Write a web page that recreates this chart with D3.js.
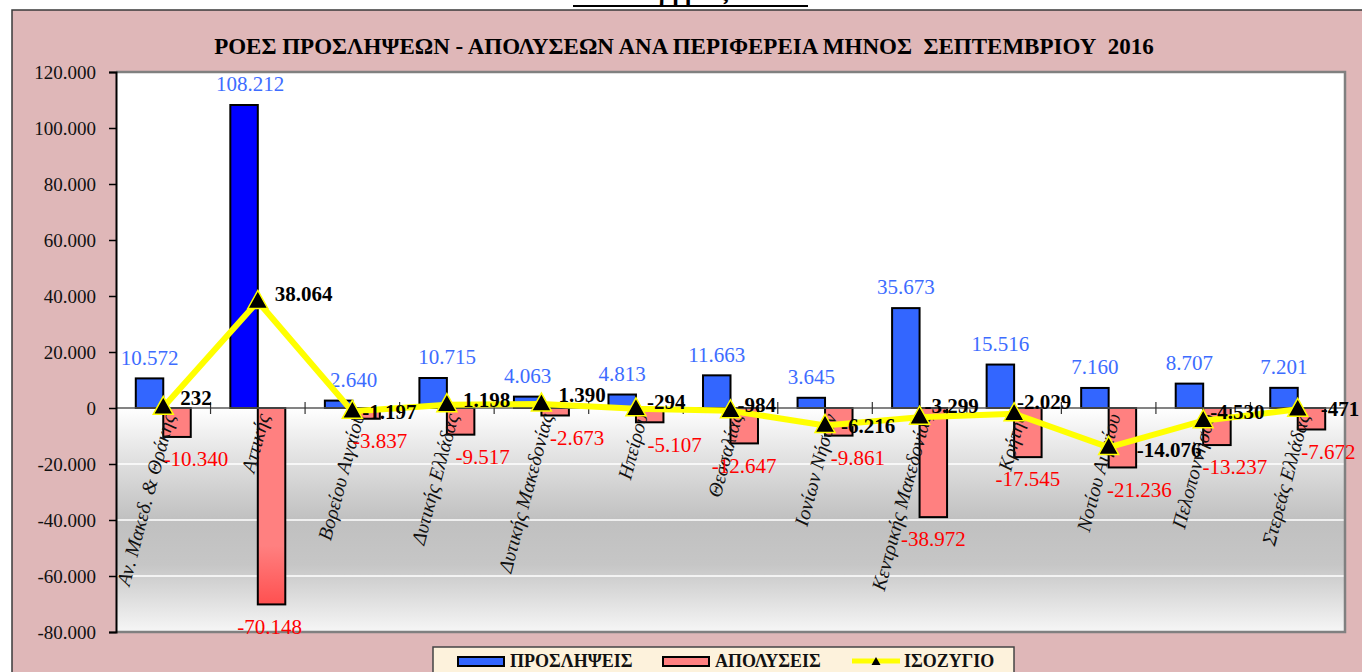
<!DOCTYPE html>
<html>
<head>
<meta charset="utf-8">
<script src="https://cdn.jsdelivr.net/npm/d3@7"></script>
<style>
  html, body { margin: 0; padding: 0; background: #fff; }
  svg { display: block; }
</style>
</head>
<body>
<svg id="chart" width="1362" height="672"></svg>
<script>
// chart values
const regions = [
  "Αν. Μακεδ. & Θράκης", "Αττικής", "Βορείου Αιγαίου", "Δυτικής Ελλάδας",
  "Δυτικής Μακεδονίας", "Ηπείρου", "Θεσσαλίας", "Ιονίων Νήσων",
  "Κεντρικής Μακεδονίας", "Κρήτης", "Νοτίου Αιγαίου", "Πελοποννήσου",
  "Στερεάς Ελλάδας"
];
const hires = [10572, 108212, 2640, 10715, 4063, 4813, 11663, 3645, 35673, 15516, 7160, 8707, 7201];
const layoffs = [-10340, -70148, -3837, -9517, -2673, -5107, -12647, -9861, -38972, -17545, -21236, -13237, -7672];
const balance = [232, 38064, -1197, 1198, 1390, -294, -984, -6216, -3299, -2029, -14076, -4530, -471];
const yTicks = [-80000, -60000, -40000, -20000, 0, 20000, 40000, 60000, 80000, 100000, 120000];
const seriesNames = ["ΠΡΟΣΛΗΨΕΙΣ", "ΑΠΟΛΥΣΕΙΣ", "ΙΣΟΖΥΓΙΟ"];
const title = "ΡΟΕΣ ΠΡΟΣΛΗΨΕΩΝ - ΑΠΟΛΥΣΕΩΝ ΑΝΑ ΠΕΡΙΦΕΡΕΙΑ ΜΗΝΟΣ  ΣΕΠΤΕΜΒΡΙΟΥ  2016";

const SERIF = "'Liberation Serif', 'DejaVu Serif', serif";
const fmt = (v) => d3.format(",")(v).replace(/,/g, ".").replace("−", "-");

// hand-placed label nudges (px), as in the original sheet
const hireDx = [0, 6, 15, 14, 0, 0, 0, 0, 0, 0, 0, 0, 0];
const layoffDx = [19, -2, 14, 22, 22, 25, 0, 19, 0, 0, 17, 18, 17];
const balDx = [17, 17, 10, 16, 17, 11, 7, 16, 5, 3, 28, 7, 23];
const balDy = [-10, -8, 0, -5, -9, -7, -6, 0, -12, -12, 2, -9, -1];

const svg = d3.select("#chart");
const plot = { left: 116, right: 1345, top: 72, bottom: 632 };

// outer frame
svg.append("rect")
  .attr("x", 12).attr("y", 10).attr("width", 1380).attr("height", 700)
  .attr("fill", "#dfb7b8").attr("stroke", "#3a3a3a").attr("stroke-width", 1.5);

// heading of the page above, cut off by the crop
svg.append("text")
  .attr("x", 690).attr("y", 0)
  .attr("text-anchor", "middle")
  .attr("font-family", SERIF).attr("font-weight", "bold").attr("font-size", 24)
  .text("Σεπτέμβριος 2016");
svg.append("line")
  .attr("x1", 573).attr("x2", 808).attr("y1", 6).attr("y2", 6)
  .attr("stroke", "#000").attr("stroke-width", 2);

svg.append("text")
  .attr("x", 684).attr("y", 54)
  .attr("text-anchor", "middle")
  .attr("font-family", SERIF).attr("font-weight", "bold").attr("font-size", 23)
  .style("white-space", "pre")
  .text(title);

const y = d3.scaleLinear().domain([-80000, 120000]).range([plot.bottom, plot.top]);
const x0 = d3.scaleBand().domain(regions).range([plot.left, plot.right]).padding(0);
const x1 = d3.scaleBand().domain(["h", "l"]).range([0, x0.bandwidth()])
  .paddingInner(0).paddingOuter(0.72);

// plot background gradient
const defs = svg.append("defs");
const bg = defs.append("linearGradient").attr("id", "plotbg")
  .attr("x1", 0).attr("x2", 0).attr("y1", 0).attr("y2", 1);
[[0, "#ffffff"], [0.6, "#ffffff"], [0.7, "#dedede"], [0.8, "#c0c0c0"], [0.88, "#c6c6c6"], [1, "#f6f6f6"]]
  .forEach(([o, c]) => bg.append("stop").attr("offset", o).attr("stop-color", c));

const redGrad = defs.append("linearGradient").attr("id", "redbar")
  .attr("x1", 0).attr("x2", 0).attr("y1", 0).attr("y2", 1);
[[0, "#ff8080"], [0.7, "#ff8080"], [1, "#ff5050"]]
  .forEach(([o, c]) => redGrad.append("stop").attr("offset", o).attr("stop-color", c));

svg.append("rect")
  .attr("x", plot.left).attr("y", plot.top)
  .attr("width", plot.right - plot.left).attr("height", plot.bottom - plot.top)
  .attr("fill", "url(#plotbg)");

// gridlines
svg.append("g").selectAll("line")
  .data(yTicks.filter((t) => t !== 0 && t !== -80000 && t !== 120000))
  .join("line")
  .attr("x1", plot.left).attr("x2", plot.right)
  .attr("y1", (d) => y(d)).attr("y2", (d) => y(d))
  .attr("stroke", "#ffffff").attr("stroke-width", 1.5);

// plot border (top, right, bottom)
svg.append("path")
  .attr("d", `M${plot.left},${plot.top}H${plot.right}V${plot.bottom}H${plot.left}`)
  .attr("fill", "none").attr("stroke", "#808080").attr("stroke-width", 2.5);

// bars
const groups = svg.append("g").selectAll("g")
  .data(regions)
  .join("g")
  .attr("transform", (d) => `translate(${x0(d)},0)`);

groups.append("rect")
  .attr("x", x1("h")).attr("width", x1.bandwidth())
  .attr("y", (d, i) => y(hires[i]))
  .attr("height", (d, i) => y(0) - y(hires[i]))
  .attr("fill", (d) => (d === "Αττικής" ? "#0000ff" : "#3366ff"))
  .attr("stroke", "#000").attr("stroke-width", 2);

groups.append("rect")
  .attr("x", x1("l")).attr("width", x1.bandwidth())
  .attr("y", y(0))
  .attr("height", (d, i) => y(layoffs[i]) - y(0))
  .attr("fill", (d) => (d === "Αττικής" ? "url(#redbar)" : "#ff8080"))
  .attr("stroke", "#000").attr("stroke-width", 2);

// zero axis and category ticks
svg.append("line")
  .attr("x1", plot.left).attr("x2", plot.right)
  .attr("y1", y(0)).attr("y2", y(0))
  .attr("stroke", "#5a5a5a").attr("stroke-width", 1.5);
svg.append("g").selectAll("line")
  .data(regions.slice(1))
  .join("line")
  .attr("x1", (d) => x0(d)).attr("x2", (d) => x0(d))
  .attr("y1", y(0) - 6).attr("y2", y(0) + 6)
  .attr("stroke", "#333").attr("stroke-width", 1.2);

// y axis
const yAxis = svg.append("g")
  .attr("transform", `translate(${plot.left},0)`)
  .call(d3.axisLeft(y).tickValues(yTicks).tickSize(7).tickPadding(13).tickFormat(fmt));
yAxis.select(".domain").attr("stroke", "#000").attr("stroke-width", 2);
yAxis.selectAll(".tick line").attr("stroke", "#000").attr("stroke-width", 1.5);
yAxis.selectAll("text")
  .attr("font-family", SERIF).attr("font-size", 19).attr("fill", "#111");

// category labels
svg.append("g").selectAll("text")
  .data(regions)
  .join("text")
  .attr("transform", (d) => `translate(${x0(d) + x0.bandwidth() / 2 + 12},${y(0) + 8}) rotate(-75)`)
  .attr("text-anchor", "end")
  .attr("font-family", SERIF).attr("font-style", "italic").attr("font-size", 20)
  .attr("fill", "#111")
  .text((d) => d);

// data labels for bars
svg.append("g").selectAll("text")
  .data(regions)
  .join("text")
  .attr("x", (d, i) => x0(d) + x1("h") + x1.bandwidth() / 2 + hireDx[i])
  .attr("y", (d, i) => y(hires[i]) - 21)
  .attr("dy", "0.35em")
  .attr("text-anchor", "middle")
  .attr("font-family", SERIF).attr("font-size", 21).attr("fill", "#3d6cff")
  .text((d, i) => fmt(hires[i]));

svg.append("g").selectAll("text")
  .data(regions)
  .join("text")
  .attr("x", (d, i) => x0(d) + x1("l") + x1.bandwidth() / 2 + layoffDx[i])
  .attr("y", (d, i) => y(layoffs[i]) + 22)
  .attr("dy", "0.35em")
  .attr("text-anchor", "middle")
  .attr("font-family", SERIF).attr("font-size", 21).attr("fill", "#ff0000")
  .text((d, i) => fmt(layoffs[i]));

// balance line
const cx = (d) => x0(d) + x0.bandwidth() / 2;
const line = d3.line().x((d) => cx(d)).y((d, i) => y(balance[i]));
svg.append("path")
  .datum(regions)
  .attr("d", line)
  .attr("fill", "none").attr("stroke", "#ffff00").attr("stroke-width", 6)
  .attr("stroke-linejoin", "miter");

svg.append("g").selectAll("path")
  .data(regions)
  .join("path")
  .attr("transform", (d, i) => `translate(${cx(d)},${y(balance[i])})`)
  .attr("d", "M0,-11L10,7L-10,7Z")
  .attr("fill", "#000").attr("stroke", "#ffff00").attr("stroke-width", 1.5);

svg.append("g").selectAll("text")
  .data(regions)
  .join("text")
  .attr("x", (d, i) => cx(d) + balDx[i])
  .attr("y", (d, i) => y(balance[i]) + balDy[i])
  .attr("dy", "0.35em")
  .attr("font-family", SERIF).attr("font-weight", "bold").attr("font-size", 21)
  .attr("fill", "#000")
  .text((d, i) => fmt(balance[i]));

// legend
const lg = svg.append("g");
lg.append("rect")
  .attr("x", 433).attr("y", 647).attr("width", 581).attr("height", 40)
  .attr("fill", "#fdf2dc").attr("stroke", "#444").attr("stroke-width", 1.5);
const legendItems = [
  { x: 458, fill: "#3366ff" },
  { x: 663, fill: "#ff8080" },
  { x: 852, fill: null }
];
legendItems.forEach((it, i) => {
  if (it.fill) {
    lg.append("rect")
      .attr("x", it.x).attr("y", 657).attr("width", 46).attr("height", 9)
      .attr("fill", it.fill).attr("stroke", "#000").attr("stroke-width", 2);
  } else {
    lg.append("line")
      .attr("x1", it.x).attr("x2", it.x + 48).attr("y1", 661).attr("y2", 661)
      .attr("stroke", "#ffff00").attr("stroke-width", 5);
    lg.append("path")
      .attr("transform", `translate(${it.x + 24},662)`)
      .attr("d", "M0,-5L4.5,3L-4.5,3Z")
      .attr("fill", "#000");
  }
  lg.append("text")
    .attr("x", it.x + 52).attr("y", 667)
    .attr("font-family", SERIF).attr("font-weight", "bold").attr("font-size", 18)
    .attr("fill", "#111")
    .text(seriesNames[i]);
});
</script>
</body>
</html>
